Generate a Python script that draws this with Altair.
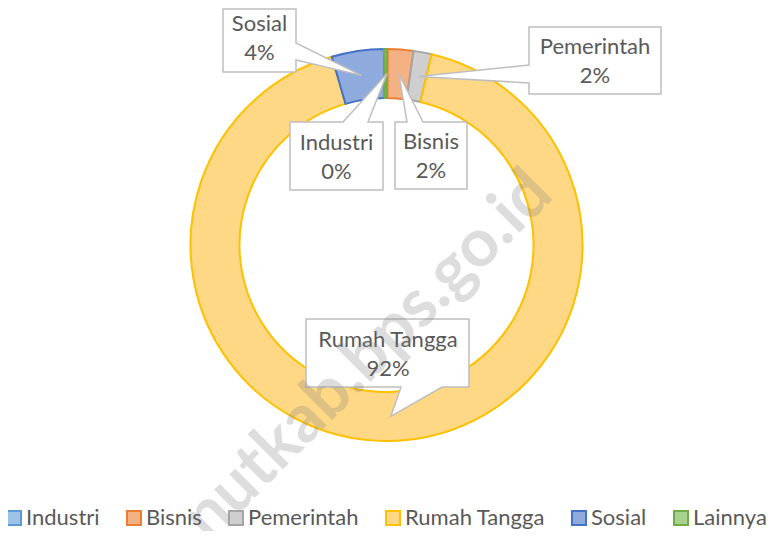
import math
import altair as alt
import pandas as pd

# ---- data -------------------------------------------------------------
categories = ["Industri", "Bisnis", "Pemerintah", "Rumah Tangga", "Sosial", "Lainnya"]
values = [0.1, 2.1, 1.5, 91.8, 4.3, 0.2]
pct_labels = ["0%", "2%", "2%", "92%", "4%", None]

fills = ["#9DC3E6", "#F4B183", "#CFCFCF", "#FFD886", "#8FAADC", "#A9D18E"]
strokes = ["#5B9BD5", "#ED7D31", "#A5A5A5", "#FFC000", "#4472C4", "#70AD47"]

# ---- layout (page pixels) -------------------------------------------
M = 8  # page margin
CX, CY = 386.5, 245.0
R_OUT, R_IN = 196, 147
R_MID = (R_OUT + R_IN) / 2
LINE_H = 29

# callout boxes: x0, y0, x1, y1, side of pointer, pointer base a, b
boxes = {
    "Sosial": (223, 9, 296, 72, "right", 43, 60),
    "Industri": (290, 122, 383, 190, "top", 343, 368),
    "Bisnis": (395, 122, 467, 189, "top", 407, 423),
    "Pemerintah": (529, 27, 661, 94, "left", 65, 83),
    "Rumah Tangga": (306, 319, 469, 387, "bottom", 401, 442),
}
# text centre of each box (page pixels)
text_centres = {
    "Sosial": (259.5, 38.5),
    "Industri": (336.5, 157),
    "Bisnis": (431, 156),
    "Pemerintah": (595, 61),
    "Rumah Tangga": (388, 354.5),
}

df = pd.DataFrame({
    "cat": categories,
    "value": values,
    "idx": list(range(len(categories))),
})

# pointer tips at the middle of each slice
total = sum(values)
tips = {}
cum = 0.0
for c, v in zip(categories, values):
    mid = (cum + v / 2) / total * 2 * math.pi
    tips[c] = (CX + R_MID * math.sin(mid), CY - R_MID * math.cos(mid))
    cum += v


def callout(name):
    x0, y0, x1, y1, side, a, b = boxes[name]
    t = tips[name]
    if side == "top":
        pts = [(x0, y0), (a, y0), t, (b, y0), (x1, y0), (x1, y1), (x0, y1)]
    elif side == "bottom":
        pts = [(x0, y0), (x1, y0), (x1, y1), (b, y1), t, (a, y1), (x0, y1)]
    elif side == "right":
        pts = [(x0, y0), (x1, y0), (x1, a), t, (x1, b), (x1, y1), (x0, y1)]
    else:
        pts = [(x0, y0), (x1, y0), (x1, y1), (x0, y1), (x0, b), t, (x0, a)]
    pts = [[p[0] - M, p[1] - M] for p in pts]
    pts.append(pts[0])
    return {"type": "Feature", "properties": {"name": name},
            "geometry": {"type": "Polygon", "coordinates": [pts]}}


features = [callout(n) for n in boxes]

label_rows = []
for c, p in zip(categories, pct_labels):
    if p is None:
        continue
    tx, ty = text_centres[c]
    label_rows.append({"text": c + "\n" + p,
                       "x": tx - M, "y": ty - M - LINE_H / 2})
labels_df = pd.DataFrame(label_rows)

FONT = "Lato"
TXT = "#595959"

legend = alt.Legend(title=None, orient="none", legendX=-5, legendY=499,
                    direction="horizontal", symbolType="square",
                    symbolSize=196, symbolStrokeWidth=2,
                    labelFont=FONT, labelFontSize=22, labelColor=TXT,
                    columnPadding=23, labelOffset=1, padding=0)

ring = alt.Chart(df).mark_arc(radius=R_OUT, radius2=R_IN, strokeWidth=2).encode(
    theta=alt.Theta("value:Q", stack=True),
    order=alt.Order("idx:Q"),
    x=alt.value(CX - M),
    y=alt.value(CY - M),
    fill=alt.Fill("cat:N", scale=alt.Scale(domain=categories, range=fills), legend=legend),
    stroke=alt.Stroke("cat:N", scale=alt.Scale(domain=categories, range=strokes), legend=legend),
)

boxes_layer = alt.Chart(alt.Data(values=features)).mark_geoshape(
    fill="white", stroke="#BFBFBF", strokeWidth=1.5, strokeJoin="miter"
).project(type="identity", scale=1, translate=[0, 0])

text_layer = alt.Chart(labels_df).mark_text(
    font=FONT, fontSize=22, color=TXT, lineBreak="\n", lineHeight=LINE_H,
    align="center", baseline="middle"
).encode(
    x=alt.X("x:Q", scale=None),
    y=alt.Y("y:Q", scale=None),
    text="text:N",
)

watermark = alt.Chart(pd.DataFrame({"t": ["nutkab.bps.go.id"]})).mark_text(
    font=FONT, fontSize=67, fontWeight="bold", color="#808080", opacity=0.26,
    angle=315, align="center", baseline="middle"
).encode(
    x=alt.value(368 - M),
    y=alt.value(356 - M),
    text="t:N",
)

chart = alt.layer(ring, boxes_layer, text_layer, watermark).properties(
    width=763, height=523, padding=0,
    autosize=alt.AutoSizeParams(type="none"),
).configure_view(strokeWidth=0)

chart.save("out.html", embed_options={"renderer": "svg", "actions": False})
